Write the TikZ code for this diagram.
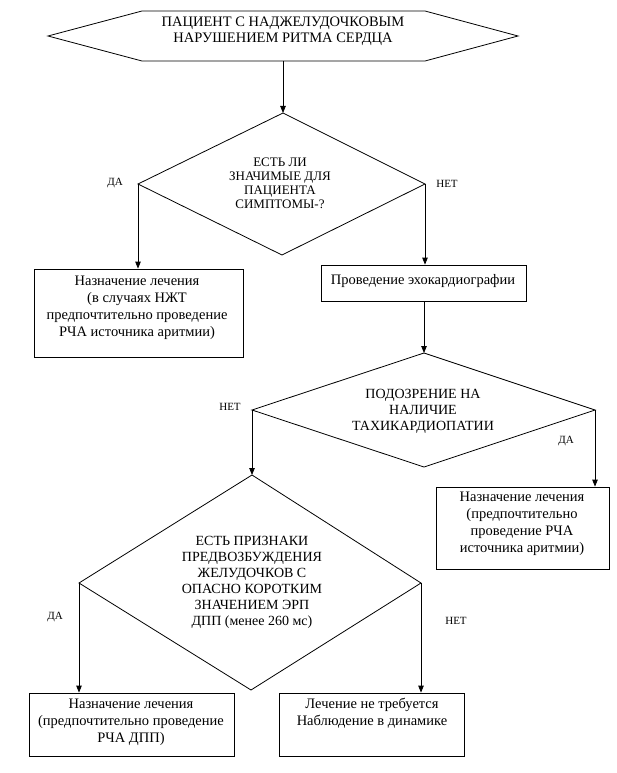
\documentclass[tikz,border=0pt]{standalone}
\usepackage{fontspec}
\setmainfont{Liberation Serif}
\usetikzlibrary{arrows.meta,calc}
\begin{document}
\begin{tikzpicture}[x=1pt,y=-1pt,
  line width=0.8pt,
  arr/.style={-{Triangle[length=7pt,width=5.5pt]}},
  boxnode/.style={draw, inner sep=0pt},
  boxtext/.style={align=center, inner sep=0pt, font=\fontsize{14.5}{17}\selectfont},
  dtext/.style={align=center, inner sep=0pt, font=\fontsize{14}{16}\selectfont},
  lbl/.style={inner sep=0pt, font=\fontsize{11}{12}\selectfont}]
\useasboundingbox[fill=white] (0,0) rectangle (617,773);

% hexagon
\coordinate (hl) at (48,36);
\coordinate (hr) at (518,36);
\coordinate (hb) at (283,61);
\draw (hl) -- (142,11) -- (425,11) -- (hr) -- (425,61) -- (142,61) -- cycle;
\node[align=center, inner sep=0pt, font=\fontsize{14.5}{15.5}\selectfont] (hex) at (283,31)
  {ПАЦИЕНТ С НАДЖЕЛУДОЧКОВЫМ\\НАРУШЕНИЕМ РИТМА СЕРДЦА};

% diamond 1
\coordinate (d1t) at (283,113);
\coordinate (d1l) at (138,184);
\coordinate (d1r) at (425,184);
\coordinate (d1b) at (282,255);
\draw (d1t) -- (d1r) -- (d1b) -- (d1l) -- cycle;
\node[align=center, inner sep=0pt, font=\fontsize{13}{14}\selectfont] (d1) at (280,183)
  {ЕСТЬ ЛИ\\ЗНАЧИМЫЕ ДЛЯ\\ПАЦИЕНТА\\СИМПТОМЫ-?};

% box 1
\node[boxnode, minimum width=209pt, minimum height=88pt] (b1) at (138.5,313) {};
\node[boxtext] (b1t) at (137,308)
  {Назначение лечения\\(в случаях НЖТ\\предпочтительно проведение\\РЧА источника аритмии)};

% box 2
\node[boxnode, minimum width=205pt, minimum height=36pt] (b2) at (423.5,283) {};
\node[boxtext] (b2t) at (423,281) {Проведение эхокардиографии};

% diamond 2
\coordinate (d2t) at (424,353);
\coordinate (d2l) at (252,410);
\coordinate (d2r) at (595,410);
\coordinate (d2b) at (424,467);
\draw (d2t) -- (d2r) -- (d2b) -- (d2l) -- cycle;
\node[dtext] (d2) at (423,411)
  {ПОДОЗРЕНИЕ НА\\НАЛИЧИЕ\\ТАХИКАРДИОПАТИИ};

% box 4
\node[boxnode, minimum width=173pt, minimum height=82pt] (b4) at (522.5,528) {};
\node[boxtext] (b4t) at (522,524)
  {Назначение лечения\\(предпочтительно\\проведение РЧА\\источника аритмии)};

% diamond 3
\coordinate (d3t) at (252,475);
\coordinate (d3l) at (79,583);
\coordinate (d3r) at (421,583);
\coordinate (d3b) at (251,690);
\draw (d3t) -- (d3r) -- (d3b) -- (d3l) -- cycle;
\node[dtext] (d3) at (252,582)
  {ЕСТЬ ПРИЗНАКИ\\ПРЕДВОЗБУЖДЕНИЯ\\ЖЕЛУДОЧКОВ С\\ОПАСНО КОРОТКИМ\\ЗНАЧЕНИЕМ ЭРП\\ДПП (менее 260 мс)};

% box 3
\node[boxnode, minimum width=205pt, minimum height=63pt] (b3) at (131.5,724.5) {};
\node[boxtext] (b3t) at (131,722)
  {Назначение лечения\\(предпочтительно проведение\\РЧА ДПП)};

% box 5
\node[boxnode, minimum width=185pt, minimum height=63pt] (b5) at (371.5,724.5) {};
\node[boxtext] (b5t) at (372,713)
  {Лечение не требуется\\Наблюдение в динамике};

% connectors
\draw[arr] (hb) -- (d1t);
\draw[arr] (d1l) -- (d1l |- b1.north);
\draw[arr] (d1r) -- (d1r |- b2.north);
\draw[arr] (b2.south -| d2t) -- (d2t);
\draw[arr] (d2l) -- (d2l |- d3t);
\draw[arr] (d2r) -- (d2r |- b4.north);
\draw[arr] (d3l) -- (d3l |- b3.north);
\draw[arr] (d3r) -- (d3r |- b5.north);

% labels
\node[lbl] (l1) at (115,183) {ДА};
\node[lbl] (l2) at (447,184) {НЕТ};
\node[lbl] (l3) at (230,407) {НЕТ};
\node[lbl] (l4) at (566,441) {ДА};
\node[lbl] (l5) at (55,617) {ДА};
\node[lbl] (l6) at (456,621) {НЕТ};
\end{tikzpicture}
\end{document}
